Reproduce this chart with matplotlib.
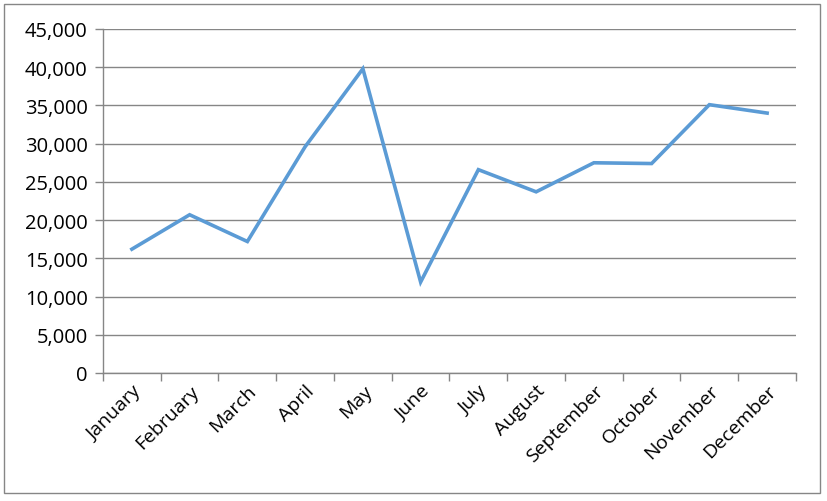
import matplotlib.pyplot as plt
from matplotlib.patches import Rectangle
from matplotlib.ticker import FuncFormatter

months = ['January', 'February', 'March', 'April', 'May', 'June',
          'July', 'August', 'September', 'October', 'November', 'December']
values = [16200, 20700, 17200, 29600, 39800, 11900,
          26600, 23700, 27500, 27400, 35100, 34000]
y_ticks = [0, 5000, 10000, 15000, 20000, 25000, 30000, 35000, 40000, 45000]

plt.rcParams['font.family'] = ['Open Sans', 'DejaVu Sans']
grey = '#868686'

fig = plt.figure(figsize=(8.28, 5.02), dpi=100)
ax = fig.add_axes([103 / 828, 1 - 374 / 502, 693 / 828, 344 / 502])

x = list(range(len(months)))
ax.plot(x, values, color='#5B9BD5', linewidth=2.6, solid_joinstyle='miter', zorder=3)

ax.set_xlim(-0.5, len(months) - 0.5)
ax.set_ylim(0, 45000)
ax.set_yticks(y_ticks)
ax.yaxis.set_major_formatter(FuncFormatter(lambda v, p: f'{int(v):,}'))
ax.grid(axis='y', color=grey, linewidth=1)
ax.set_axisbelow(True)

ax.set_xticks(x)
ax.set_xticklabels(months, rotation=45, ha='right', va='top', rotation_mode='anchor')
ax.set_xticks([i - 0.5 for i in range(len(months) + 1)], minor=True)
ax.tick_params(axis='x', which='major', length=0, pad=6, labelsize=14)
ax.tick_params(axis='x', which='minor', length=6, color=grey, width=1)
ax.tick_params(axis='y', length=6, color=grey, width=1, labelsize=14.5, pad=5)

for side in ['top', 'right']:
    ax.spines[side].set_visible(False)
for side in ['left', 'bottom']:
    ax.spines[side].set_color(grey)
    ax.spines[side].set_linewidth(1)

# outer chart frame
fig.patches.append(Rectangle((4 / 828, 1 - 494 / 502), 816 / 828, 489 / 502,
                             transform=fig.transFigure, fill=False,
                             edgecolor=grey, linewidth=1))

fig.savefig('out.png', dpi=100)
